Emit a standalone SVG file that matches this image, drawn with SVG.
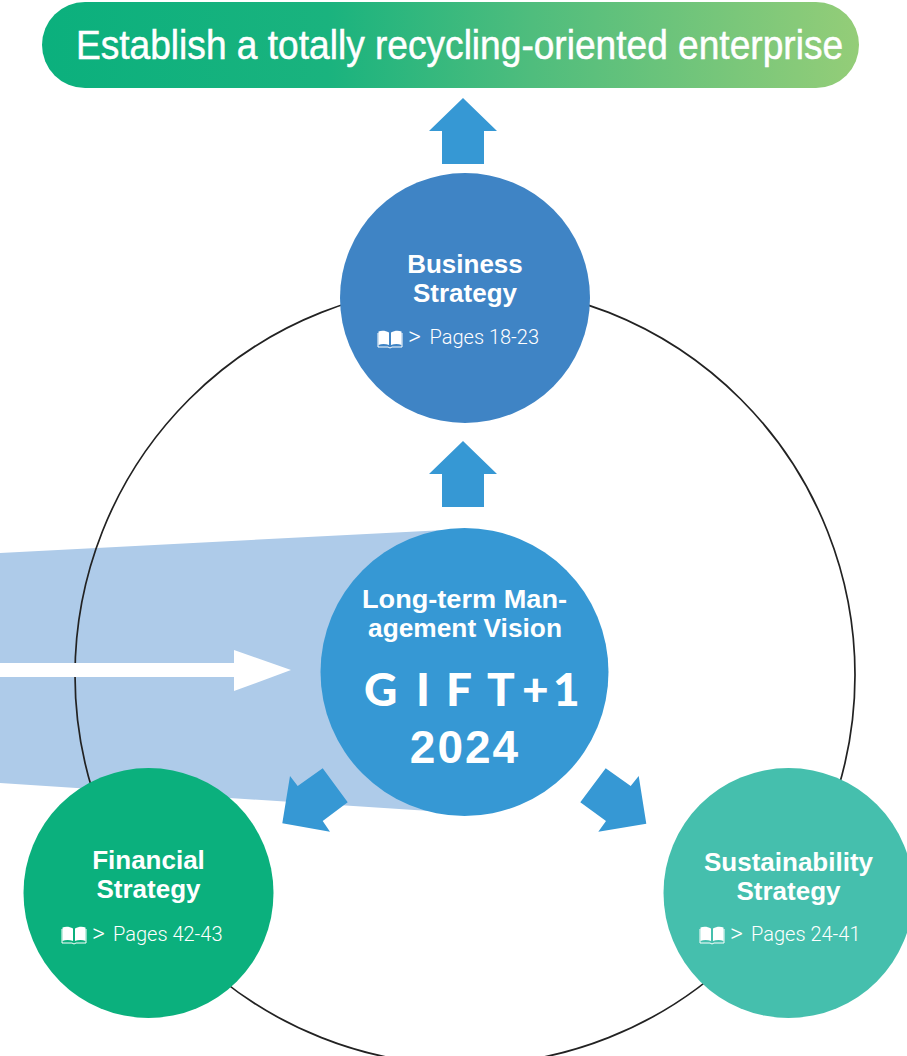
<svg xmlns="http://www.w3.org/2000/svg" width="907" height="1056" viewBox="0 0 907 1056">
<style>
.arrow{fill:#3698d4}
.h{font-family:"Liberation Sans",Arial,sans-serif;font-weight:700;font-size:26px;fill:#fff;text-anchor:middle}
.p{font-family:Roboto,"Liberation Sans",sans-serif;font-weight:300;font-size:20px;fill:#fff}
.g{font-family:Roboto,"Liberation Sans",sans-serif;font-weight:300;font-size:25px;fill:#fff}
.book{fill:none;stroke:#fff;stroke-width:1}
.bookf{fill:#fff}
</style>
<defs>
<linearGradient id="g" x1="0" x2="1" y1="0" y2="0">
<stop offset="0" stop-color="#0bb07d"/><stop offset=".35" stop-color="#1ab37e"/><stop offset=".6" stop-color="#4fbd7d"/><stop offset="1" stop-color="#94cd78"/>
</linearGradient>
<g id="bk">
<path class="bookf" d="M1 1.500C4 0.500 8 0.500 11.500 2.500V15C8 13.500 4 13.500 1 15ZM13.500 2.500C17 0.500 21 0.500 24 1.500V15C21 13.500 17 13.500 13.500 15Z"/>
<path class="book" d="M0.500 3V17H10.500L12.500 18L14.500 17H24.500V3"/>
</g>
</defs>
<polygon id="band" points="0,553 445,530 445,812 0,783" fill="#aecbe9"/>
<g id="connectors">
<circle cx="465" cy="675" r="390" fill="none" stroke="#222" stroke-width="1.700"/>
<polygon points="0,663 234,663 234,650 291,670 234,691 234,677 0,677" fill="#fff"/>
<polygon class="arrow" points="463,98 497,131 484,131 484,164 442,164 442,131 429,131"/>
<polygon class="arrow" points="463,441 497,474 484,474 484,507 442,507 442,474 429,474"/>
<polygon class="arrow" points="322.700,768.300 347.700,802.300 322.700,821 330,831.700 282.300,823.300 290,776 297.700,786"/>
<polygon class="arrow" points="605.700,768.300 630.700,786 638.700,776 646.300,823.700 598.300,831.700 606,821 580.300,802.300"/>
</g>
<g id="goal">
<rect x="42" y="2" width="817" height="86" rx="43" fill="url(#g)"/>
<text transform="translate(76 59) scale(.905 1)" font-family="Liberation Sans,Arial,sans-serif" font-size="41" fill="#fff" stroke="#fff" stroke-width=".5">Establish a totally recycling-oriented enterprise</text>
</g>
<g id="business">
<circle cx="465" cy="298" r="125" fill="#3f84c5"/>
<text class="h" x="465" y="273">Business</text><text class="h" x="465" y="302">Strategy</text>
<use href="#bk" x="377.500" y="330"/>
<text class="g" x="408" y="345">&gt;</text>
<text class="p" x="429.500" y="344">Pages 18-23</text>
</g>
<g id="vision">
<circle cx="464.500" cy="672" r="144" fill="#3698d4"/>
<text class="h" x="464.500" y="608" textLength="205" lengthAdjust="spacingAndGlyphs">Long-term Man-</text><text class="h" x="465" y="637" textLength="194" lengthAdjust="spacingAndGlyphs">agement Vision</text>
<text x="364 416 446 487 522 553" y="706" font-family="Lato,sans-serif" font-weight="900" font-size="46" fill="#fff">GIFT+1</text>
<text x="465" y="763" font-family="Liberation Sans,Arial,sans-serif" font-weight="700" font-size="46" letter-spacing="2" text-anchor="middle" fill="#fff">2024</text>
</g>
<g id="financial">
<circle cx="148.500" cy="893" r="125" fill="#0bb07d"/>
<text class="h" x="148.500" y="869">Financial</text><text class="h" x="148.500" y="898">Strategy</text>
<use href="#bk" x="61.500" y="926"/>
<text class="g" x="92" y="942">&gt;</text>
<text class="p" x="113" y="941">Pages 42-43</text>
</g>
<g id="sustainability">
<circle cx="788.500" cy="893" r="125" fill="#45bfad"/>
<text class="h" x="788.500" y="871">Sustainability</text><text class="h" x="788.500" y="900">Strategy</text>
<use href="#bk" x="699.500" y="926"/>
<text class="g" x="730" y="942">&gt;</text>
<text class="p" x="751" y="941">Pages 24-41</text>
</g>
</svg>
